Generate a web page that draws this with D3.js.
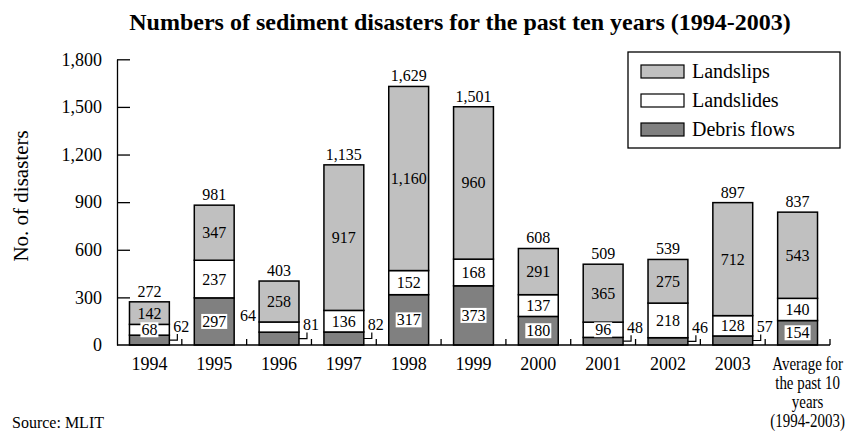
<!DOCTYPE html>
<html><head><meta charset="utf-8">
<script src="https://cdn.jsdelivr.net/npm/d3@7"></script>
<style>
body{margin:0;background:#fff;}
text{font-family:"Liberation Serif","Times New Roman",serif;fill:#000;}
</style></head>
<body><svg id="c" width="846" height="432"></svg>
<script>
const categories = ["1994","1995","1996","1997","1998","1999","2000","2001","2002","2003","Average for the past 10 years (1994-2003)"];
const debrisFlows = [62,297,81,82,317,373,180,48,46,57,154];
const landslides  = [68,237,64,136,152,168,137,96,218,128,140];
const landslips   = [142,347,258,917,1160,960,291,365,275,712,543];
const totals      = [272,981,403,1135,1629,1501,608,509,539,897,837];
const yTicks = [0,300,600,900,1200,1500,1800];
const avgLabelLines = ["Average for","the past 10","years","(1994-2003)"];
const seriesNames = ["Debris flows","Landslides","Landslips"];
const colors = {"Debris flows":"#808080","Landslides":"#ffffff","Landslips":"#c0c0c0"};

const svg = d3.select("#c");
const L = 117, R = 830, T = 59.3, B = 345;
const x = d3.scaleBand().domain(categories).range([L,R]).padding(0);
const y = d3.scaleLinear().domain([0,1800]).range([B,T]);
const bw = x.bandwidth()*0.615;
const fmt = d3.format(",");

const rows = categories.map((c,i)=>({cat:c,"Debris flows":debrisFlows[i],"Landslides":landslides[i],"Landslips":landslips[i],total:totals[i]}));
const stack = d3.stack().keys(seriesNames)(rows);

// title
svg.append("text").attr("x",460).attr("y",30).attr("text-anchor","middle")
  .style("font-size","24px").style("font-weight","bold")
  .text("Numbers of sediment disasters for the past ten years (1994-2003)");

// bars
stack.forEach(s=>{
  svg.append("g").selectAll("rect").data(s).join("rect")
    .attr("x",d=>x(d.data.cat)+(x.bandwidth()-bw)/2)
    .attr("y",d=>y(d[1]))
    .attr("width",bw)
    .attr("height",d=>y(d[0])-y(d[1]))
    .attr("fill",colors[s.key]).attr("stroke","#000").attr("stroke-width",1.5);
});

// axes
const yAxis = d3.axisLeft(y).tickValues(yTicks).tickSizeInner(-13).tickSizeOuter(0).tickPadding(15)
  .tickFormat(fmt);
const gy = svg.append("g").attr("transform",`translate(${L},0)`).call(yAxis);
gy.attr("font-family",null).attr("font-size",null);
gy.selectAll("text").style("font-size","18px");
gy.select(".domain").attr("stroke","#000").attr("stroke-width",1.3);
gy.selectAll(".tick line").attr("stroke","#000").attr("stroke-width",1.3);
gy.selectAll(".tick").filter(d=>d===0).select("line").remove();

const gx = svg.append("g").attr("transform",`translate(0,${B})`);
gx.append("line").attr("x1",L).attr("x2",R).attr("y1",0).attr("y2",0).attr("stroke","#000").attr("stroke-width",1.5);
categories.forEach((c,i)=>{
  const xb = x(c)+x.bandwidth();
  gx.append("line").attr("x1",xb).attr("x2",xb).attr("y1",0).attr("y2",-6).attr("stroke","#000").attr("stroke-width",1.3);
});
categories.forEach((c,i)=>{
  const cx = x(c)+x.bandwidth()/2;
  if(i<categories.length-1){
    gx.append("text").attr("x",cx).attr("y",25).attr("text-anchor","middle").style("font-size","18px").text(c);
  } else {
    const g = gx.append("g").attr("transform",`translate(${cx+10},0) scale(0.83,1)`);
    avgLabelLines.forEach((t,j)=>g.append("text").attr("x",0).attr("y",25+j*19).attr("text-anchor","middle").style("font-size","18px").text(t));
  }
});

// y label
svg.append("text").attr("transform","translate(28,196) rotate(-90)").attr("text-anchor","middle")
  .style("font-size","21px").text("No. of disasters");

// source
svg.append("text").attr("x",12).attr("y",428).style("font-size","16px").text("Source: MLIT");

// value labels
const lab = svg.append("g").style("font-size","16px");
function boxed(xc,yc,t,box){
  const g = lab.append("g");
  const tx = g.append("text").attr("x",xc).attr("y",yc).attr("text-anchor","middle").attr("dominant-baseline","central").text(t);
  if(box){
    const bb = tx.node().getBBox();
    g.insert("rect","text").attr("x",bb.x-1).attr("y",bb.y+1).attr("width",bb.width+2).attr("height",bb.height-2).attr("fill","#fff");
  }
}
rows.forEach((r,i)=>{
  const x0 = x(r.cat)+(x.bandwidth()-bw)/2, x1 = x0+bw, xc = x0+bw/2;
  const d = r["Debris flows"], ls = r["Landslides"], lp = r["Landslips"];
  if(y(0)-y(d) > 18){
    boxed(xc,y(d/2),fmt(d),true);
  } else {
    const yy = y(d/2);
    lab.append("path").attr("d",`M${x1},${yy} H${x1+8} V${yy-6}`).attr("fill","none").attr("stroke","#000").attr("stroke-width",1.2);
    lab.append("text").attr("x",x1+12).attr("y",yy-14).attr("text-anchor","middle").attr("dominant-baseline","central").text(fmt(d));
  }
  if(y(d)-y(d+ls) > 10.5){
    boxed(xc,y(d+ls/2),fmt(ls),true);
  } else {
    lab.append("text").attr("x",x0-3).attr("y",y(d+ls/2)-12).attr("text-anchor","end").attr("dominant-baseline","central").text(fmt(ls));
  }
  boxed(xc,y(d+ls+lp/2),fmt(lp),false);
  lab.append("text").attr("x",xc).attr("y",y(d+ls+lp)-5).attr("text-anchor","middle").text(fmt(r.total));
});

// legend
const lg = svg.append("g");
lg.append("rect").attr("x",628).attr("y",52).attr("width",212).attr("height",96).attr("fill","#fff").attr("stroke","#000").attr("stroke-width",1.3);
["Landslips","Landslides","Debris flows"].forEach((k,j)=>{
  const yy = 71+j*29;
  lg.append("rect").attr("x",641).attr("y",yy-6).attr("width",43).attr("height",13).attr("fill",colors[k]).attr("stroke","#000").attr("stroke-width",1.2);
  lg.append("text").attr("x",692).attr("y",yy).attr("dominant-baseline","central").style("font-size","20px").text(k);
});
</script></body></html>
